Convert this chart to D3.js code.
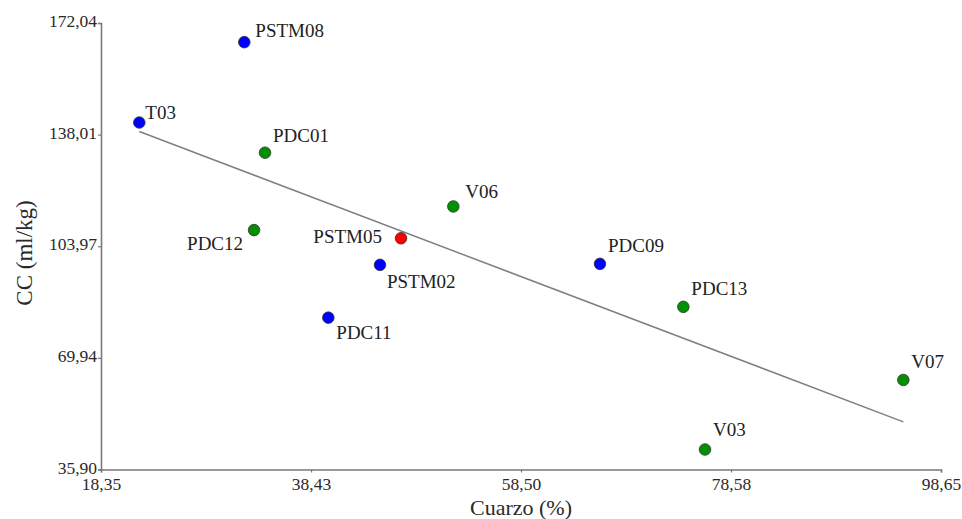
<!DOCTYPE html>
<html>
<head>
<meta charset="utf-8">
<script src="https://cdn.jsdelivr.net/npm/d3@7"></script>
<style>
  body { margin: 0; background: #fff; }
  svg { display: block; font-family: "Liberation Serif", "Times New Roman", serif; }
</style>
</head>
<body>
<div id="chart"></div>
<script>
// muestras
const names = ["T03", "PSTM08", "PDC01", "PDC12", "V06", "PSTM05", "PSTM02", "PDC09", "PDC11", "PDC13", "V07", "V03"];
const cuarzo = [22.01, 32.05, 34.03, 32.98, 52.03, 47.03, 45.02, 66.05, 40.08, 74.02, 95.05, 76.09];
const cc = [141.7, 166.2, 132.5, 108.9, 116.1, 106.4, 98.3, 98.6, 82.2, 85.5, 63.2, 42.0];
const grupo = ["azul", "azul", "verde", "verde", "verde", "rojo", "azul", "azul", "azul", "verde", "verde", "verde"];

// recta de tendencia (extremos)
const trendX = [22.01, 95.05];
const trendY = [138.95, 50.43];

// ticks
const xTicks = [18.35, 38.43, 58.50, 78.58, 98.65];
const xTickLabels = ["18,35", "38,43", "58,50", "78,58", "98,65"];
const yTicks = [35.90, 69.94, 103.97, 138.01, 172.04];
const yTickLabels = ["35,90", "69,94", "103,97", "138,01", "172,04"];

const colores = { azul: "#0000ff", verde: "#009000", rojo: "#ff0000" };

// posicion de las etiquetas respecto al punto
const etiqueta = {
  T03: [6, -4, "start"],
  PSTM08: [11, -5, "start"],
  PDC01: [8, -11, "start"],
  PDC12: [-11, 20, "end"],
  V06: [12, -8, "start"],
  PSTM05: [-19, 5, "end"],
  PSTM02: [7, 23, "start"],
  PDC09: [8, -12, "start"],
  PDC11: [8, 21, "start"],
  PDC13: [8, -12, "start"],
  V07: [8, -12, "start"],
  V03: [8, -13, "start"]
};

const width = 962;
const height = 519;

const svg = d3.select("#chart")
  .append("svg")
  .attr("width", width)
  .attr("height", height);

const x = d3.scaleLinear()
  .domain([xTicks[0], xTicks[xTicks.length - 1]])
  .range([101, 941]);

const y = d3.scaleLinear()
  .domain([yTicks[0], yTicks[yTicks.length - 1]])
  .range([469.5, 23]);

// ejes
const gx = svg.append("g")
  .attr("transform", `translate(0,${y.range()[0]})`)
  .call(d3.axisBottom(x)
    .tickValues(xTicks)
    .tickSize(3)
    .tickPadding(5)
    .tickFormat((d, i) => xTickLabels[i]));

const gy = svg.append("g")
  .attr("transform", `translate(${x.range()[0]},0)`)
  .call(d3.axisLeft(y)
    .tickValues(yTicks)
    .tickSize(3)
    .tickPadding(1)
    .tickFormat((d, i) => yTickLabels[i]));

[gx, gy].forEach(g => {
  g.select(".domain").attr("stroke", "#7a7a7a").attr("stroke-width", 1.6);
  g.selectAll(".tick line").attr("stroke", "#7a7a7a").attr("stroke-width", 1.2);
  g.selectAll(".tick text")
    .attr("fill", "#2a2a2a")
    .style("font-family", "Liberation Serif, serif")
    .style("font-size", "17.5px");
});
gy.selectAll(".tick text").attr("dy", "0.2em");

// titulos
svg.append("text")
  .attr("x", (x.range()[0] + x.range()[1]) / 2)
  .attr("y", 515)
  .attr("text-anchor", "middle")
  .attr("fill", "#2a2a2a")
  .style("font-size", "22px")
  .text("Cuarzo (%)");

svg.append("text")
  .attr("transform", `translate(32,253) rotate(-90)`)
  .attr("text-anchor", "middle")
  .attr("fill", "#2a2a2a")
  .style("font-size", "23px")
  .text("CC (ml/kg)");

// recta
svg.append("line")
  .attr("x1", x(trendX[0]))
  .attr("y1", y(trendY[0]))
  .attr("x2", x(trendX[1]))
  .attr("y2", y(trendY[1]))
  .attr("stroke", "#808080")
  .attr("stroke-width", 1.5);

// puntos
const data = names.map((n, i) => ({ name: n, cuarzo: cuarzo[i], cc: cc[i], grupo: grupo[i] }));

svg.append("g")
  .selectAll("circle")
  .data(data)
  .join("circle")
  .attr("cx", d => x(d.cuarzo))
  .attr("cy", d => y(d.cc))
  .attr("r", 5.8)
  .attr("fill", d => colores[d.grupo])
  .attr("stroke", "#333")
  .attr("stroke-width", 0.8);

svg.append("g")
  .selectAll("text")
  .data(data)
  .join("text")
  .attr("x", d => x(d.cuarzo) + etiqueta[d.name][0])
  .attr("y", d => y(d.cc) + etiqueta[d.name][1])
  .attr("text-anchor", d => etiqueta[d.name][2])
  .attr("fill", "#222")
  .style("font-size", "19px")
  .text(d => d.name);
</script>
</body>
</html>
